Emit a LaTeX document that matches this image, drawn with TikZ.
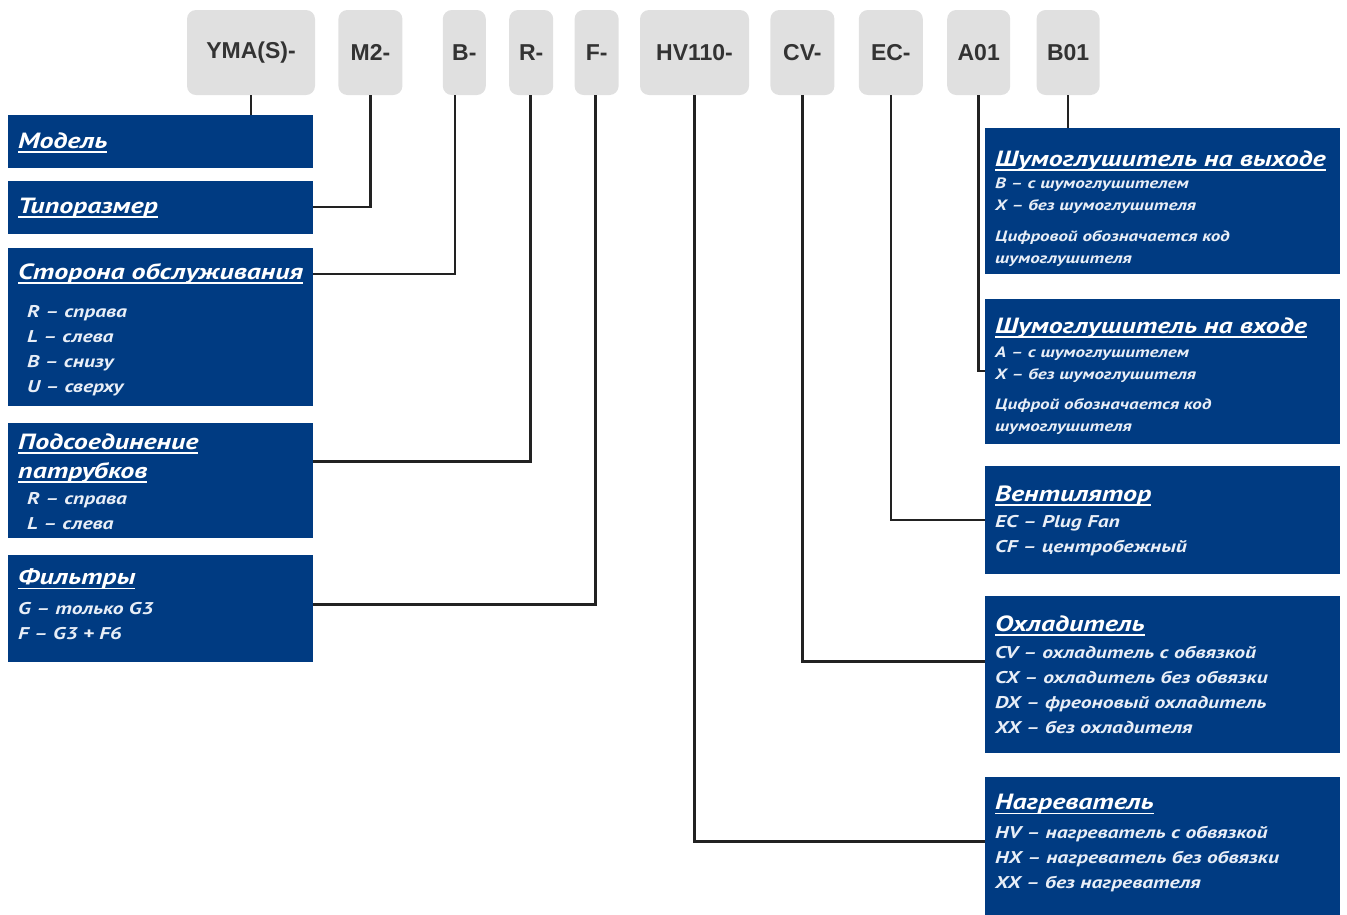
\documentclass[tikz,border=0pt]{standalone}
\usepackage{fontspec}
\setmainfont{Liberation Sans}
\newfontfamily\boxfont[FakeStretch=1.27]{PT Sans}
\usetikzlibrary{positioning}

\definecolor{boxblue}{HTML}{003B82}
\definecolor{codegray}{HTML}{E0E0E0}
\definecolor{codetext}{HTML}{333333}
\definecolor{linegray}{HTML}{222222}
\definecolor{itemwhite}{HTML}{E8EEF7}

\newcommand{\hdul}[1]{\leavevmode\setbox0=\hbox{#1}\rlap{\rule[-4.5pt]{\wd0}{1.8pt}}\box0}
\newcommand{\headfont}{\fontsize{22}{29}\selectfont\color{white}}
\newcommand{\itemfont}{\fontsize{17}{25}\selectfont\color{itemwhite}}
\newcommand{\smallitemfont}{\fontsize{15}{22}\selectfont\color{itemwhite}}
\newcommand{\boxsetup}{\lineskiplimit=-100pt\relax\raggedright}

\begin{document}
\begin{tikzpicture}[x=1pt, y=-1pt,
	codebox/.style={rectangle, rounded corners=9pt, fill=codegray, text=codetext, font=\fontsize{23}{23}\selectfont\bfseries, minimum height=85pt, inner sep=0pt},
	infobox/.style={rectangle, fill=boxblue, inner xsep=10pt, inner ysep=0pt, font=\boxfont\bfseries\itshape},
	wire/.style={draw=linegray, line width=2.6pt}
	]
	\useasboundingbox (0,0) rectangle (1347,914);

	\node (ymacode) [codebox, minimum width=128pt] at (251,52.5) {YMA(S)-};
	\node (m2code) [codebox, minimum width=64pt, right=23pt of ymacode] {M2-};
	\node (bcode) [codebox, minimum width=43pt, right=40pt of m2code] {B-};
	\node (rcode) [codebox, minimum width=44pt, right=23pt of bcode] {R-};
	\node (fcode) [codebox, minimum width=44pt, right=21pt of rcode] {F-};
	\node (hvcode) [codebox, minimum width=109pt, right=21pt of fcode] {HV110-};
	\node (cvcode) [codebox, minimum width=64pt, right=21pt of hvcode] {CV-};
	\node (eccode) [codebox, minimum width=64pt, right=24pt of cvcode] {EC-};
	\node (acode) [codebox, minimum width=63pt, right=24pt of eccode] {A01};
	\node (bocode) [codebox, minimum width=63pt, right=26pt of acode] {B01};

	\node (model) [infobox, anchor=north west] at (8,115) {\parbox[t][53pt][t]{285pt}{\boxsetup
		\headfont\rule{0pt}{33pt}\hdul{Модель}\par}};
		\node (size) [infobox, below=12pt of model] {\parbox[t][53pt][t]{285pt}{\boxsetup
			\headfont\rule{0pt}{33pt}\hdul{Типоразмер}\par}};
		\node (side) [infobox, below=14pt of size] {\parbox[t][158pt][t]{285pt}{\boxsetup
			\headfont\rule{0pt}{31pt}\hdul{Сторона обслуживания}\par
			\itemfont\leftskip=9pt\vspace{13pt}R – справа\par L – слева\par B – снизу\par U – сверху\par}};
		\node (pipes) [infobox, below=17pt of side] {\parbox[t][115pt][t]{285pt}{\boxsetup
			\headfont\rule{0pt}{26pt}\hdul{Подсоединение}\par \hdul{патрубков}\par
			\itemfont\leftskip=9pt\vspace{1pt}R – справа\par L – слева\par}};
		\node (filters) [infobox, below=16pt of pipes] {\parbox[t][107pt][t]{285pt}{\boxsetup
			\headfont\rule{0pt}{30pt}\hdul{Фильтры}\par
			\itemfont\vspace{5pt}G – только G3\par F – G3 + F6\par}};

	\node (silout) [infobox, anchor=north west] at (985,128) {\parbox[t][146pt][t]{335pt}{\boxsetup
		\headfont\rule{0pt}{38pt}\hdul{Шумоглушитель на выходе}\par
		\smallitemfont B – с шумоглушителем\par X – без шумоглушителя\par
		\vspace{9pt}Цифровой обозначается код\par шумоглушителя\par}};
		\node (silin) [infobox, below=24pt of silout] {\parbox[t][145pt][t]{335pt}{\boxsetup
			\headfont\rule{0pt}{35pt}\hdul{Шумоглушитель на входе}\par
			\smallitemfont\vspace{2pt}A – с шумоглушителем\par X – без шумоглушителя\par
			\vspace{8pt}Цифрой обозначается код\par шумоглушителя\par}};
		\node (fan) [infobox, below=22pt of silin] {\parbox[t][108pt][t]{335pt}{\boxsetup
			\headfont\rule{0pt}{35pt}\hdul{Вентилятор}\par
			\itemfont\vspace{1pt}EC – Plug Fan\par CF – центробежный\par}};
		\node (cooler) [infobox, below=22pt of fan] {\parbox[t][157pt][t]{335pt}{\boxsetup
			\headfont\rule{0pt}{35pt}\hdul{Охладитель}\par
			\itemfont\vspace{2pt}CV – охладитель с обвязкой\par CX – охладитель без обвязки\par DX – фреоновый охладитель\par XX – без охладителя\par}};
		\node (heater) [infobox, below=23pt of cooler] {\parbox[t][160pt][t]{335pt}{\boxsetup
			\headfont\rule{0pt}{33pt}\hdul{Нагреватель}\par
			\itemfont\vspace{4pt}HV – нагреватель с обвязкой\par HX – нагреватель без обвязки\par XX – без нагревателя\par}};

	\draw [wire] (ymacode.south)--(ymacode.south |- model.north);
	\draw [wire] (m2code.south) |- (size.east);
	\draw [wire] ([xshift=-9.5pt]bcode.south) |- ([yshift=-26pt]side.north east);
	\draw [wire] ([xshift=-1pt]rcode.south) |- ([yshift=-38pt]pipes.north east);
	\draw [wire] ([xshift=-1pt]fcode.south) |- ([yshift=-50pt]filters.north east);
	\draw [wire] (hvcode.south) |- ([yshift=-65pt]heater.north west);
	\draw [wire] (cvcode.south) |- ([yshift=-65pt]cooler.north west);
	\draw [wire] (eccode.south) |- (fan.west);
	\draw [wire] (acode.south) |- (silin.west);
	\draw [wire] (bocode.south)--(bocode.south |- silout.north);

\end{tikzpicture}
\end{document}
